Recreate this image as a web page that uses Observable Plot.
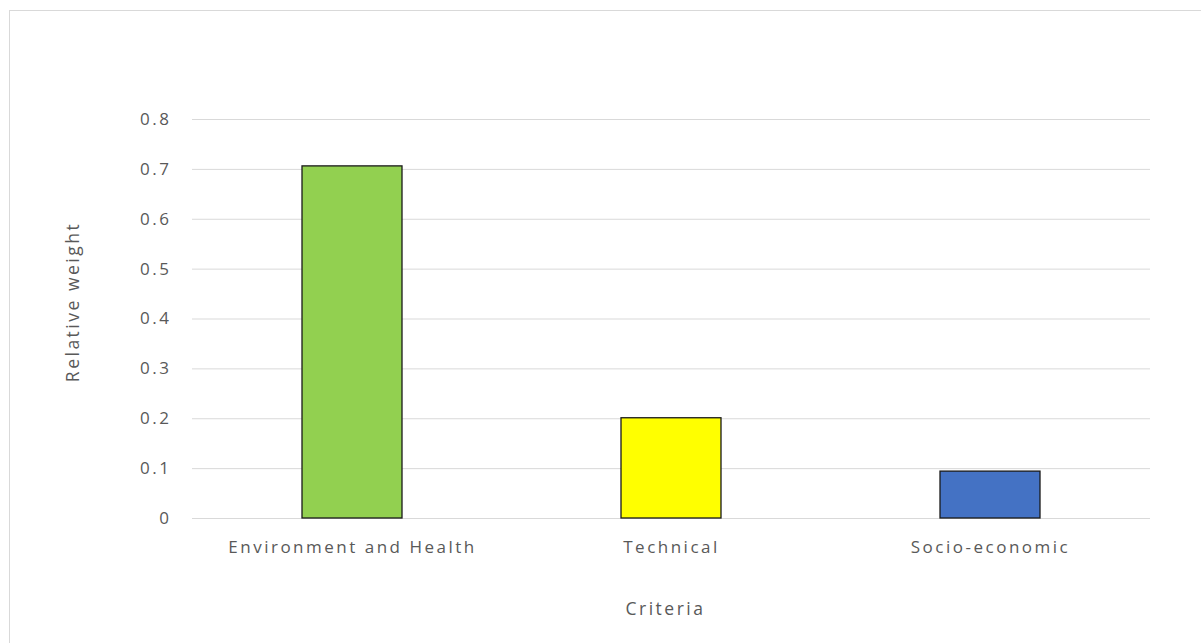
<!DOCTYPE html>
<html><head><meta charset="utf-8">
<script src="https://cdn.jsdelivr.net/npm/d3@7"></script>
<script src="https://cdn.jsdelivr.net/npm/@observablehq/plot@0.6"></script>
<style>
html,body{margin:0;padding:0;background:#fff;}
#wrap{position:relative;width:1201px;height:643px;overflow:hidden;}
#frame{position:absolute;left:9px;top:10px;width:1300px;height:700px;border-left:1px solid #d9d9d9;border-top:1px solid #d9d9d9;}
#chart{position:absolute;left:0;top:0;}
#chart svg text{letter-spacing:2.5px;}
</style></head>
<body><div id="wrap"><div id="frame"></div><div id="chart"></div></div>
<script>
const categories = ["Environment and Health", "Technical", "Socio-economic"];
const weights = [0.706, 0.201, 0.094];
const colors = ["#92D050", "#FFFF00", "#4472C4"];
const yTicks = [0, 0.1, 0.2, 0.3, 0.4, 0.5, 0.6, 0.7, 0.8];
const xTitle = "Criteria";
const yTitle = "Relative weight";

const data = categories.map((c, i) => ({category: c, value: weights[i], color: colors[i]}));
const font = "'Open Sans', 'DejaVu Sans', sans-serif";

const chart = Plot.plot({
  width: 1201,
  height: 643,
  marginLeft: 192,
  marginRight: 51,
  marginTop: 119,
  marginBottom: 125,
  style: {fontFamily: font, fontSize: "17px", color: "#595959", background: "transparent"},
  x: {domain: categories, paddingInner: 0.687, paddingOuter: 0.3435, label: null},
  y: {domain: [0, 0.8], label: null},
  marks: [
    Plot.gridY(yTicks, {stroke: "#d9d9d9", strokeOpacity: 1, strokeWidth: 1}),
    Plot.axisY(yTicks, {tickSize: 0, tickPadding: 21, tickFormat: d => d === 0 ? "0" : d3.format(".1f")(d), fill: "#595959", fontSize: 17}),
    Plot.axisX({tickSize: 0, tickPadding: 22, fill: "#595959", fontSize: 17}),
    Plot.barY(data, {x: "category", y: "value", fill: "color", stroke: "#1a1a1a", strokeWidth: 1.3}),
    Plot.text([xTitle], {frameAnchor: "bottom", dy: 96, dx: -6, text: d => d, fill: "#595959", fontSize: 17.5}),
    Plot.text([yTitle], {frameAnchor: "left", textAnchor: "middle", dx: -119, dy: -17, rotate: -90, text: d => d, fill: "#595959", fontSize: 17.5})
  ]
});
document.getElementById("chart").appendChild(chart);
</script></body></html>
